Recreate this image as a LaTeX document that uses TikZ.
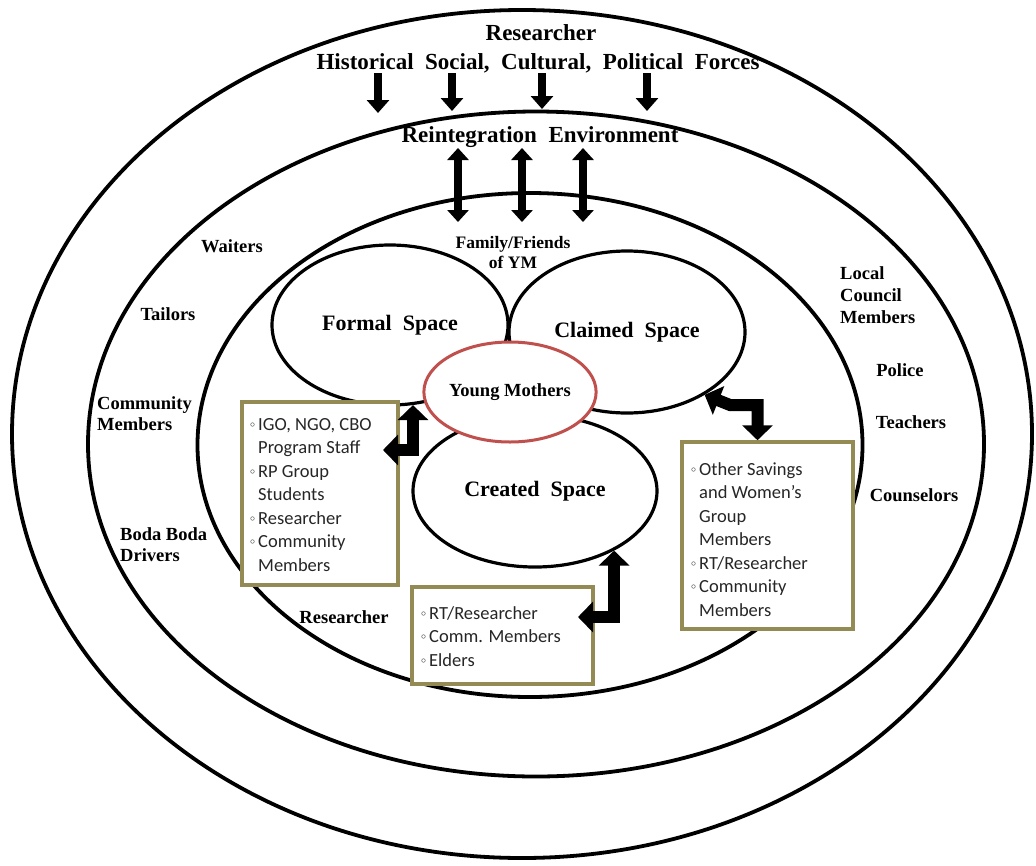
\documentclass[tikz,border=0pt]{standalone}
\usepackage{fontspec}
\setmainfont{Liberation Serif}
\newfontfamily\boxfont{Carlito}
\usetikzlibrary{arrows.meta,shapes.geometric}
\definecolor{boxborder}{HTML}{948A54}
\definecolor{ymred}{HTML}{C0504D}
\definecolor{boxtextc}{HTML}{262626}
\newcommand\bul{\raisebox{3pt}{\fontsize{10}{10}\selectfont$\circ$}}
\newcommand\wsp{\hspace{0.5em}}
\begin{document}
\begin{tikzpicture}[x=1pt,y=-1pt,
  ring/.style={draw, ellipse, line width=3.8pt, inner sep=0pt},
  space/.style={draw, ellipse, line width=3.2pt, fill=white, inner sep=0pt, font=\bfseries\fontsize{22}{24}\selectfont},
  lbl/.style={font=\bfseries\fontsize{18.5}{22}\selectfont, align=left, inner sep=0pt},
  title/.style={font=\bfseries\fontsize{23}{26}\selectfont, inner sep=0pt},
  box/.style={draw=boxborder, line width=3.5pt, fill=white, inner sep=0pt},
  boxtext/.style={font=\boxfont\fontsize{18.5}{23.5}\selectfont, text=boxtextc, inner sep=0pt, anchor=west},
  down/.style={line width=8pt, -{Triangle[width=22pt,length=13pt]}},
  both/.style={line width=8pt, {Triangle[width=21pt,length=12pt]}-{Triangle[width=21pt,length=12pt]}},
  elbow/.style={line width=12pt, line join=miter, {Triangle[width=30pt,length=15pt]}-{Triangle[width=30pt,length=15pt]}}
]
\useasboundingbox (0,0) rectangle (1036,865);
\fill[white] (0,0) rectangle (1036,865);

% rings
\node[ring, minimum width=1020pt, minimum height=848pt] (outer) at (522,434) {};
\node[ring, minimum width=896pt, minimum height=665pt] (env) at (536,444) {};
\node[ring, minimum width=665pt, minimum height=504pt] (inner) at (530,445) {};

% titles
\node[title] (res) at (541,33) {Researcher};
\node[title] (forces) at (538,63) {Historical\wsp Social,\wsp Cultural,\wsp Political\wsp Forces};
\node[title] (reint) at (540,137) {Reintegration\wsp Environment};

% top arrows
\foreach \x/\y [count=\i] in {378/113,452/111,542/109,647/111}{
  \coordinate (ds\i) at (\x,73);
  \coordinate (de\i) at (\x,\y);
  \draw[down] (ds\i) -- (de\i);
}
\foreach \x [count=\i] in {458,522,583}{
  \coordinate (bs\i) at (\x,148);
  \coordinate (be\i) at (\x,222);
  \draw[both] (bs\i) -- (be\i);
}

% spaces
\node[space, minimum width=236pt, minimum height=160pt] (formal) at (390,325) {Formal\wsp Space};
\node[space, minimum width=236pt, minimum height=162pt] (claimed) at (627,332) {Claimed\wsp Space};
\node[space, minimum width=244pt, minimum height=152pt] (created) at (535,491) {Created\wsp Space};
\node[draw=ymred, line width=3pt, fill=white, ellipse, minimum width=134pt, minimum height=100pt, inner sep=0pt, font=\bfseries\fontsize{18.5}{20}\selectfont] (ym) at (510,392) {Young Mothers};

\node[lbl, align=center, font=\bfseries\fontsize{17.5}{20}\selectfont] (family) at (513,253) {Family/Friends\\of YM};

% ring labels
\node[lbl] (waiters) at (232,246) {Waiters};
\node[lbl] (tailors) at (168,314) {Tailors};
\node[lbl, anchor=west, font=\bfseries\fontsize{18.5}{21}\selectfont] (community) at (97,414) {Community\\Members};
\node[lbl, anchor=west, font=\bfseries\fontsize{18.5}{21}\selectfont] (boda) at (120,545) {Boda Boda\\Drivers};
\node[lbl] (resb) at (344,617) {Researcher};
\node[lbl, anchor=west] (local) at (840,295) {Local\\Council\\Members};
\node[lbl] (police) at (900,370) {Police};
\node[lbl] (teachers) at (911,422) {Teachers};
\node[lbl] (couns) at (914,495) {Counselors};

% boxes
\node[box, minimum width=156pt, minimum height=183pt] (lbox) at (320,493.5) {};
\node[boxtext] (lboxt) at (250,496) {\begin{tabular}{@{}l@{\hspace{3pt}}l@{}}
\bul & IGO, NGO, CBO\\ & Program Staff\\ \bul & RP Group\\ & Students\\ \bul & Researcher\\ \bul & Community\\ & Members\end{tabular}};

\node[box, minimum width=171pt, minimum height=187pt] (rbox) at (767.5,535.5) {};
\node[boxtext] (rboxt) at (691,541) {\begin{tabular}{@{}l@{\hspace{3pt}}l@{}}
\bul & Other Savings\\ & and Women’s\\ & Group\\ & Members\\ \bul & RT/Researcher\\ \bul & Community\\ & Members\end{tabular}};

\node[box, minimum width=181pt, minimum height=97pt] (bbox) at (502.5,635.5) {};
\node[boxtext] (bboxt) at (421,638) {\begin{tabular}{@{}l@{\hspace{3pt}}l@{}}
\bul & RT/Researcher\\ \bul & Comm. Members\\ \bul & Elders\end{tabular}};

% elbow arrows
\coordinate (ltip) at (383,450);
\draw[elbow] (formal.-74) |- (ltip);
\coordinate (btip) at (578,617);
\draw[elbow] (created.-37) |- (btip);
\coordinate (rcorner) at (730,405);
\draw[elbow] (claimed.-39) -- (rcorner) -| ([xshift=-10pt]rbox.north);
\end{tikzpicture}
\end{document}
